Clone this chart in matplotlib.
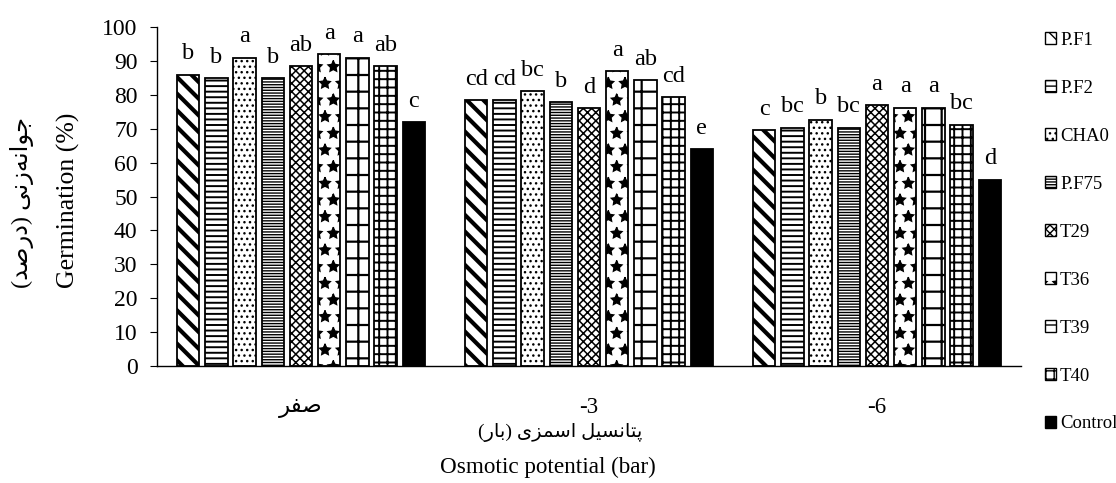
import matplotlib
matplotlib.use("Agg")
import numpy as np
import matplotlib.pyplot as plt
from matplotlib.patches import Patch

plt.rcParams.update({
    "font.family": ["Liberation Serif", "DejaVu Sans"],
    "font.size": 16,
    "axes.linewidth": 1.0,
})

# ---------------------------------------------------------
# Data
# ---------------------------------------------------------

groups = ["صفر", "-3", "-6"]
treatments = ["P.F1", "P.F2", "CHA0", "P.F75", "T29", "T36", "T39", "T40", "Control"]

pf1     = [86.0, 78.5, 69.5]
pf2     = [85.0, 78.5, 70.3]
cha0    = [91.0, 81.0, 72.7]
pf75    = [85.0, 77.8, 70.3]
t29     = [88.5, 76.0, 77.0]
t36     = [92.0, 87.0, 76.2]
t39     = [91.0, 84.4, 76.2]
t40     = [88.5, 79.4, 71.2]
control = [72.0, 64.0, 55.0]
values = [pf1, pf2, cha0, pf75, t29, t36, t39, t40, control]

letters_pf1     = ["b", "cd", "c"]
letters_pf2     = ["b", "cd", "bc"]
letters_cha0    = ["a", "bc", "b"]
letters_pf75    = ["b", "b", "bc"]
letters_t29     = ["ab", "d", "a"]
letters_t36     = ["a", "a", "a"]
letters_t39     = ["a", "ab", "a"]
letters_t40     = ["ab", "cd", "bc"]
letters_control = ["c", "e", "d"]
letters = [letters_pf1, letters_pf2, letters_cha0, letters_pf75, letters_t29,
           letters_t36, letters_t39, letters_t40, letters_control]

ylabel_fa = "جوانه\u200cزنی (درصد)"
ylabel_en = "Germination (%)"
xlabel_fa = "پتانسیل اسمزی (بار)"
xlabel_en = "Osmotic potential (bar)"

# bar styles
hatches    = ["\\\\", "---", "...", "------", "xxxx", "*", "+", "++", ""]
hatch_lw   = [3.0, 1.4, 1.0, 1.0, 1.1, 1.0, 1.6, 1.4, 1.0]
facecolors = ["white"] * 8 + ["black"]


# ---------------------------------------------------------
# Minimal Persian shaping (matplotlib has no RTL/joining)
# ---------------------------------------------------------

FORMS = {  # isolated, final, initial, medial
    "ا": ("\uFE8D", "\uFE8E", None, None),
    "ب": ("\uFE8F", "\uFE90", "\uFE91", "\uFE92"),
    "پ": ("\uFB56", "\uFB57", "\uFB58", "\uFB59"),
    "ت": ("\uFE95", "\uFE96", "\uFE97", "\uFE98"),
    "ج": ("\uFE9D", "\uFE9E", "\uFE9F", "\uFEA0"),
    "د": ("\uFEA9", "\uFEAA", None, None),
    "ر": ("\uFEAD", "\uFEAE", None, None),
    "ز": ("\uFEAF", "\uFEB0", None, None),
    "س": ("\uFEB1", "\uFEB2", "\uFEB3", "\uFEB4"),
    "ص": ("\uFEB9", "\uFEBA", "\uFEBB", "\uFEBC"),
    "ف": ("\uFED1", "\uFED2", "\uFED3", "\uFED4"),
    "ل": ("\uFEDD", "\uFEDE", "\uFEDF", "\uFEE0"),
    "م": ("\uFEE1", "\uFEE2", "\uFEE3", "\uFEE4"),
    "ن": ("\uFEE5", "\uFEE6", "\uFEE7", "\uFEE8"),
    "ه": ("\uFEE9", "\uFEEA", "\uFEEB", "\uFEEC"),
    "و": ("\uFEED", "\uFEEE", None, None),
    "ی": ("\uFBFC", "\uFBFD", "\uFBFE", "\uFBFF"),
}


def fa(text):
    if not any(c in FORMS for c in text):
        return text
    out = []
    for i, c in enumerate(text):
        if c == "\u200c":
            continue
        if c not in FORMS:
            out.append(c)
            continue
        prev = text[i - 1] if i > 0 else None
        nxt = text[i + 1] if i + 1 < len(text) else None
        join_prev = prev in FORMS and FORMS[prev][2] is not None
        join_next = nxt in FORMS and FORMS[c][2] is not None
        iso, fin, ini, med = FORMS[c]
        if join_prev and join_next:
            out.append(med)
        elif join_prev:
            out.append(fin)
        elif join_next:
            out.append(ini)
        else:
            out.append(iso)
    mirror = {"(": ")", ")": "("}
    return "".join(mirror.get(c, c) for c in reversed(out))


# ---------------------------------------------------------
# Plot
# ---------------------------------------------------------

fig = plt.figure(figsize=(11.16, 4.83), dpi=100)
ax = fig.add_axes([0.1407, 0.2422, 0.7742, 0.7018])

x = np.arange(len(groups))
pitch = 0.098
width = 0.078

legend_handles = []
for j, name in enumerate(treatments):
    with plt.rc_context({"hatch.linewidth": hatch_lw[j], "hatch.color": "black"}):
        bars = ax.bar(x + (j - 4) * pitch, values[j], width,
                      color=facecolors[j], edgecolor="black", linewidth=1.3,
                      hatch=hatches[j])
        for b in bars:
            if hasattr(b, "set_hatch_linewidth"):
                b.set_hatch_linewidth(hatch_lw[j])
        h = Patch(facecolor=facecolors[j], edgecolor="black", linewidth=1.0,
                  hatch=hatches[j])
        if hasattr(h, "set_hatch_linewidth"):
            h.set_hatch_linewidth(min(hatch_lw[j], 1.2))
    legend_handles.append(h)

    for i in range(len(groups)):
        ax.annotate(letters[j][i], (x[i] + (j - 4) * pitch, values[j][i]),
                    xytext=(0, 11), textcoords="offset points",
                    ha="center", va="baseline", fontsize=17.5)

ax.set_xlim(-0.5, 2.5)
ax.set_ylim(0, 100)
ax.set_yticks(np.arange(0, 101, 10))
ax.set_xticks(x)
ax.set_xticklabels([fa(g) for g in groups])
ax.tick_params(axis="x", length=0, pad=22, labelsize=16.5)
ax.tick_params(axis="y", direction="out", length=5, pad=9, labelsize=17)
ax.spines["top"].set_visible(False)
ax.spines["right"].set_visible(False)

fig.text(22 / 1116, 1 - 202 / 483, fa(ylabel_fa), rotation=90,
         ha="center", va="center", fontsize=17.5)
fig.text(68 / 1116, 1 - 200 / 483, ylabel_en, rotation=90,
         ha="center", va="center", fontsize=18.5)
fig.text(560 / 1116, 1 - 432 / 483, fa(xlabel_fa),
         ha="center", va="center", fontsize=14)
fig.text(548 / 1116, 1 - 467 / 483, xlabel_en,
         ha="center", va="center", fontsize=16.7)

fig.legend(legend_handles, treatments, loc="upper left",
           bbox_to_anchor=(1045 / 1116, 1 - 32 / 483),
           frameon=False, fontsize=13.5, handlelength=0.6, handleheight=0.6,
           handletextpad=0.2, labelspacing=1.65, borderpad=0, borderaxespad=0)

fig.savefig("out.png", dpi=100)
